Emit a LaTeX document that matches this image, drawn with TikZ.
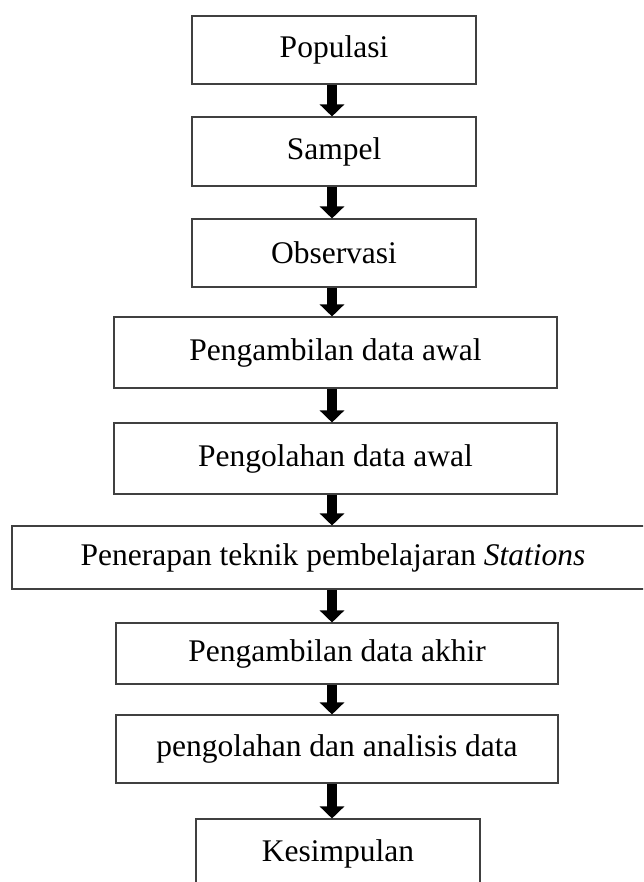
\documentclass[tikz,border=0pt]{standalone}
\usepackage{fontspec}
\setmainfont{Liberation Serif}
\usetikzlibrary{arrows.meta}
\begin{document}
\begin{tikzpicture}[x=1pt,y=-1pt,
  box/.style={draw=black!75, line width=1.1pt, rectangle, inner sep=0pt,
    font=\fontsize{31.5}{36}\selectfont},
  flowarrow/.style={line width=9.5pt, black,
    -{Triangle[width=24pt,length=12pt]}, shorten <=0.5pt}]
\useasboundingbox (0,0) rectangle (643,882);
\clip (0,0) rectangle (643,882);
\fill[white] (0,0) rectangle (643,882);
\coordinate (ax) at (332,0);
\node[box, minimum width=284pt, minimum height=68pt] (b1) at (334,50) {Populasi};
\node[box, minimum width=284pt, minimum height=69pt] (b2) at (334,151.5) {Sampel};
\node[box, minimum width=284pt, minimum height=68pt] (b3) at (334,253) {Observasi};
\node[box, minimum width=443pt, minimum height=71pt] (b4) at (335.5,352.5) {Pengambilan data awal};
\node[box, minimum width=443pt, minimum height=71pt] (b5) at (335.5,458.5) {Pengolahan data awal};
\node[box, minimum width=648pt, minimum height=63pt] (b6) at (336,557.5) {\hspace*{-6pt}Penerapan teknik pembelajaran \textit{Stations}};
\node[box, minimum width=442pt, minimum height=61pt] (b7) at (337,653.5) {Pengambilan data akhir};
\node[box, minimum width=442pt, minimum height=68pt] (b8) at (337,749) {pengolahan dan analisis data};
\node[box, minimum width=284pt, minimum height=70pt] (b9) at (338,854) {Kesimpulan};
\foreach \a/\b in {b1/b2,b2/b3,b3/b4,b4/b5,b5/b6,b6/b7,b7/b8,b8/b9}
  \draw[flowarrow] (\a.south -| ax) -- (\b.north -| ax);
\end{tikzpicture}
\end{document}
